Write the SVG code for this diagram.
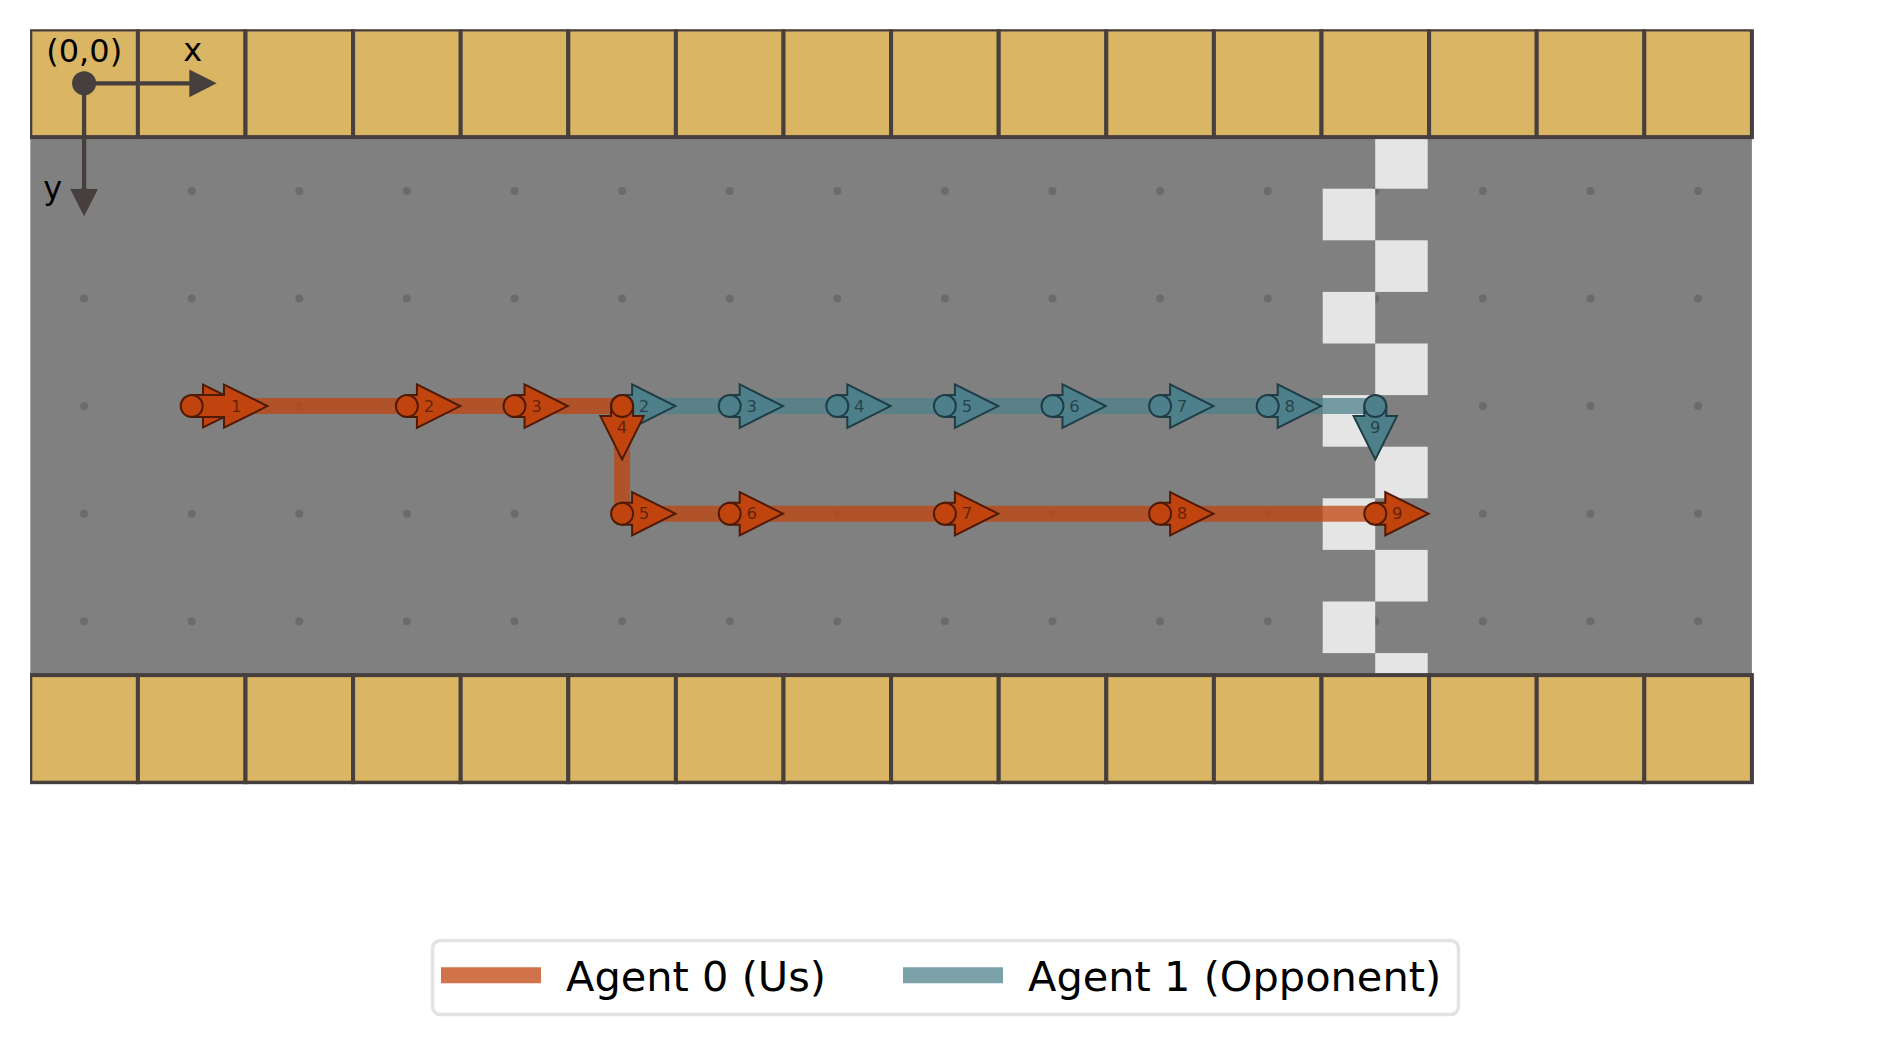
<svg xmlns="http://www.w3.org/2000/svg" xmlns:xlink="http://www.w3.org/1999/xlink" width="1890" height="1045" viewBox="0 0 1890 1045">
<style>
.cell{fill:#dab563;stroke:#463f3d;stroke-width:4}
.dot{fill:#6b6b6b}
.chk{fill:#e5e5e5}
.ax{stroke:#463f3d;stroke-width:4.3;fill:none}
.axh{fill:#463f3d}
.axt{font-family:"DejaVu Sans",sans-serif;font-size:32px;fill:#000}
.p0{fill:none;stroke:#c1440e;stroke-opacity:0.75;stroke-width:16;stroke-linejoin:miter}
.p1{fill:none;stroke:#4e808b;stroke-opacity:0.75;stroke-width:16}
.m0{fill:#c1440e;stroke:#4f1a04;stroke-width:2;stroke-linejoin:miter}
.m1{fill:#4e808b;stroke:#1f3d46;stroke-width:2;stroke-linejoin:miter}
.lb{font-family:"DejaVu Sans",sans-serif;font-size:16.5px;fill:#000;fill-opacity:0.5;text-anchor:middle;dominant-baseline:central}
.lg{font-family:"DejaVu Sans",sans-serif;font-size:41.5px;fill:#000}
</style>
<defs>
<clipPath id="axclip"><rect x="30" y="29.3" width="1724" height="755"/></clipPath>
<g id="ar"><polygon points="0,-11 10,-11 10,-21.7 53.3,0 10,21.7 10,11 0,11"/><circle cx="0" cy="0" r="11"/></g>
</defs>
<rect x="0" y="0" width="1890" height="1045" fill="#ffffff"/>
<g id="board" clip-path="url(#axclip)">
<rect x="30.3" y="137.1" width="1721.6" height="538" fill="#808080"/>
<g id="dots">
<circle class="dot" cx="84.1" cy="190.9" r="4"/><circle class="dot" cx="191.7" cy="190.9" r="4"/><circle class="dot" cx="299.3" cy="190.9" r="4"/><circle class="dot" cx="406.9" cy="190.9" r="4"/><circle class="dot" cx="514.5" cy="190.9" r="4"/><circle class="dot" cx="622.1" cy="190.9" r="4"/><circle class="dot" cx="729.7" cy="190.9" r="4"/><circle class="dot" cx="837.3" cy="190.9" r="4"/><circle class="dot" cx="944.9" cy="190.9" r="4"/><circle class="dot" cx="1052.5" cy="190.9" r="4"/><circle class="dot" cx="1160.1" cy="190.9" r="4"/><circle class="dot" cx="1267.7" cy="190.9" r="4"/><circle class="dot" cx="1375.3" cy="190.9" r="4"/><circle class="dot" cx="1482.9" cy="190.9" r="4"/><circle class="dot" cx="1590.5" cy="190.9" r="4"/><circle class="dot" cx="1698.1" cy="190.9" r="4"/>
<circle class="dot" cx="84.1" cy="298.5" r="4"/><circle class="dot" cx="191.7" cy="298.5" r="4"/><circle class="dot" cx="299.3" cy="298.5" r="4"/><circle class="dot" cx="406.9" cy="298.5" r="4"/><circle class="dot" cx="514.5" cy="298.5" r="4"/><circle class="dot" cx="622.1" cy="298.5" r="4"/><circle class="dot" cx="729.7" cy="298.5" r="4"/><circle class="dot" cx="837.3" cy="298.5" r="4"/><circle class="dot" cx="944.9" cy="298.5" r="4"/><circle class="dot" cx="1052.5" cy="298.5" r="4"/><circle class="dot" cx="1160.1" cy="298.5" r="4"/><circle class="dot" cx="1267.7" cy="298.5" r="4"/><circle class="dot" cx="1375.3" cy="298.5" r="4"/><circle class="dot" cx="1482.9" cy="298.5" r="4"/><circle class="dot" cx="1590.5" cy="298.5" r="4"/><circle class="dot" cx="1698.1" cy="298.5" r="4"/>
<circle class="dot" cx="84.1" cy="406.1" r="4"/><circle class="dot" cx="191.7" cy="406.1" r="4"/><circle class="dot" cx="299.3" cy="406.1" r="4"/><circle class="dot" cx="406.9" cy="406.1" r="4"/><circle class="dot" cx="514.5" cy="406.1" r="4"/><circle class="dot" cx="622.1" cy="406.1" r="4"/><circle class="dot" cx="729.7" cy="406.1" r="4"/><circle class="dot" cx="837.3" cy="406.1" r="4"/><circle class="dot" cx="944.9" cy="406.1" r="4"/><circle class="dot" cx="1052.5" cy="406.1" r="4"/><circle class="dot" cx="1160.1" cy="406.1" r="4"/><circle class="dot" cx="1267.7" cy="406.1" r="4"/><circle class="dot" cx="1375.3" cy="406.1" r="4"/><circle class="dot" cx="1482.9" cy="406.1" r="4"/><circle class="dot" cx="1590.5" cy="406.1" r="4"/><circle class="dot" cx="1698.1" cy="406.1" r="4"/>
<circle class="dot" cx="84.1" cy="513.7" r="4"/><circle class="dot" cx="191.7" cy="513.7" r="4"/><circle class="dot" cx="299.3" cy="513.7" r="4"/><circle class="dot" cx="406.9" cy="513.7" r="4"/><circle class="dot" cx="514.5" cy="513.7" r="4"/><circle class="dot" cx="622.1" cy="513.7" r="4"/><circle class="dot" cx="729.7" cy="513.7" r="4"/><circle class="dot" cx="837.3" cy="513.7" r="4"/><circle class="dot" cx="944.9" cy="513.7" r="4"/><circle class="dot" cx="1052.5" cy="513.7" r="4"/><circle class="dot" cx="1160.1" cy="513.7" r="4"/><circle class="dot" cx="1267.7" cy="513.7" r="4"/><circle class="dot" cx="1375.3" cy="513.7" r="4"/><circle class="dot" cx="1482.9" cy="513.7" r="4"/><circle class="dot" cx="1590.5" cy="513.7" r="4"/><circle class="dot" cx="1698.1" cy="513.7" r="4"/>
<circle class="dot" cx="84.1" cy="621.3" r="4"/><circle class="dot" cx="191.7" cy="621.3" r="4"/><circle class="dot" cx="299.3" cy="621.3" r="4"/><circle class="dot" cx="406.9" cy="621.3" r="4"/><circle class="dot" cx="514.5" cy="621.3" r="4"/><circle class="dot" cx="622.1" cy="621.3" r="4"/><circle class="dot" cx="729.7" cy="621.3" r="4"/><circle class="dot" cx="837.3" cy="621.3" r="4"/><circle class="dot" cx="944.9" cy="621.3" r="4"/><circle class="dot" cx="1052.5" cy="621.3" r="4"/><circle class="dot" cx="1160.1" cy="621.3" r="4"/><circle class="dot" cx="1267.7" cy="621.3" r="4"/><circle class="dot" cx="1375.3" cy="621.3" r="4"/><circle class="dot" cx="1482.9" cy="621.3" r="4"/><circle class="dot" cx="1590.5" cy="621.3" r="4"/><circle class="dot" cx="1698.1" cy="621.3" r="4"/>
</g>
<g id="finish">
<rect class="chk" x="1375.2" y="137.1" width="52.5" height="51.6"/>
<rect class="chk" x="1322.7" y="188.7" width="52.5" height="51.6"/>
<rect class="chk" x="1375.2" y="240.3" width="52.5" height="51.6"/>
<rect class="chk" x="1322.7" y="291.9" width="52.5" height="51.6"/>
<rect class="chk" x="1375.2" y="343.5" width="52.5" height="51.6"/>
<rect class="chk" x="1322.7" y="395.1" width="52.5" height="51.6"/>
<rect class="chk" x="1375.2" y="446.7" width="52.5" height="51.6"/>
<rect class="chk" x="1322.7" y="498.3" width="52.5" height="51.6"/>
<rect class="chk" x="1375.2" y="549.9" width="52.5" height="51.6"/>
<rect class="chk" x="1322.7" y="601.5" width="52.5" height="51.6"/>
<rect class="chk" x="1375.2" y="653.1" width="52.5" height="22"/>
</g>
<g id="top-wall">
<rect class="cell" x="30.3" y="29.5" width="107.6" height="107.6"/><rect class="cell" x="137.9" y="29.5" width="107.6" height="107.6"/><rect class="cell" x="245.5" y="29.5" width="107.6" height="107.6"/><rect class="cell" x="353.1" y="29.5" width="107.6" height="107.6"/><rect class="cell" x="460.7" y="29.5" width="107.6" height="107.6"/><rect class="cell" x="568.3" y="29.5" width="107.6" height="107.6"/><rect class="cell" x="675.9" y="29.5" width="107.6" height="107.6"/><rect class="cell" x="783.5" y="29.5" width="107.6" height="107.6"/><rect class="cell" x="891.1" y="29.5" width="107.6" height="107.6"/><rect class="cell" x="998.7" y="29.5" width="107.6" height="107.6"/><rect class="cell" x="1106.3" y="29.5" width="107.6" height="107.6"/><rect class="cell" x="1213.9" y="29.5" width="107.6" height="107.6"/><rect class="cell" x="1321.5" y="29.5" width="107.6" height="107.6"/><rect class="cell" x="1429.1" y="29.5" width="107.6" height="107.6"/><rect class="cell" x="1536.7" y="29.5" width="107.6" height="107.6"/><rect class="cell" x="1644.3" y="29.5" width="107.6" height="107.6"/>
</g>
<g id="bottom-wall">
<rect class="cell" x="30.3" y="675.1" width="107.6" height="107.6"/><rect class="cell" x="137.9" y="675.1" width="107.6" height="107.6"/><rect class="cell" x="245.5" y="675.1" width="107.6" height="107.6"/><rect class="cell" x="353.1" y="675.1" width="107.6" height="107.6"/><rect class="cell" x="460.7" y="675.1" width="107.6" height="107.6"/><rect class="cell" x="568.3" y="675.1" width="107.6" height="107.6"/><rect class="cell" x="675.9" y="675.1" width="107.6" height="107.6"/><rect class="cell" x="783.5" y="675.1" width="107.6" height="107.6"/><rect class="cell" x="891.1" y="675.1" width="107.6" height="107.6"/><rect class="cell" x="998.7" y="675.1" width="107.6" height="107.6"/><rect class="cell" x="1106.3" y="675.1" width="107.6" height="107.6"/><rect class="cell" x="1213.9" y="675.1" width="107.6" height="107.6"/><rect class="cell" x="1321.5" y="675.1" width="107.6" height="107.6"/><rect class="cell" x="1429.1" y="675.1" width="107.6" height="107.6"/><rect class="cell" x="1536.7" y="675.1" width="107.6" height="107.6"/><rect class="cell" x="1644.3" y="675.1" width="107.6" height="107.6"/>
</g>
</g>
<g id="connectors">
<polyline class="p0" points="191.7,406.1 622.1,406.1 622.1,513.7 1375.3,513.7"/>
<polyline class="p1" points="622.1,406.1 1375.3,406.1"/>
</g>
<g id="agent1-markers">
<g id="a1-s2"><use xlink:href="#ar" class="m1" transform="translate(622.1,406.1)"/><text class="lb" x="644.1" y="406.1">2</text></g>
<g id="a1-s3"><use xlink:href="#ar" class="m1" transform="translate(729.7,406.1)"/><text class="lb" x="751.7" y="406.1">3</text></g>
<g id="a1-s4"><use xlink:href="#ar" class="m1" transform="translate(837.3,406.1)"/><text class="lb" x="859.3" y="406.1">4</text></g>
<g id="a1-s5"><use xlink:href="#ar" class="m1" transform="translate(944.9,406.1)"/><text class="lb" x="966.9" y="406.1">5</text></g>
<g id="a1-s6"><use xlink:href="#ar" class="m1" transform="translate(1052.5,406.1)"/><text class="lb" x="1074.5" y="406.1">6</text></g>
<g id="a1-s7"><use xlink:href="#ar" class="m1" transform="translate(1160.1,406.1)"/><text class="lb" x="1182.1" y="406.1">7</text></g>
<g id="a1-s8"><use xlink:href="#ar" class="m1" transform="translate(1267.7,406.1)"/><text class="lb" x="1289.7" y="406.1">8</text></g>
<g id="a1-s9"><use xlink:href="#ar" class="m1" transform="translate(1375.3,406.1) rotate(90)"/><text class="lb" x="1375.3" y="427.6">9</text></g>
</g>
<g id="agent0-markers">
<g id="a0-s1">
<polygon class="m0" points="191.7,395.1 203,395.1 203,384.7 246.4,406.1 203,427.5 203,417.1 191.7,417.1"/>
<polygon class="m0" points="191.7,395.1 224,395.1 224,384.5 267.4,406.1 224,427.7 224,417.1 191.7,417.1"/>
<circle class="m0" cx="191.7" cy="406.1" r="11"/>
<text class="lb" x="236.2" y="406.1">1</text>
</g>
<g id="a0-s2"><use xlink:href="#ar" class="m0" transform="translate(406.9,406.1)"/><text class="lb" x="428.9" y="406.1">2</text></g>
<g id="a0-s3"><use xlink:href="#ar" class="m0" transform="translate(514.5,406.1)"/><text class="lb" x="536.5" y="406.1">3</text></g>
<g id="a0-s4"><use xlink:href="#ar" class="m0" transform="translate(622.1,406.1) rotate(90)"/><text class="lb" x="622.1" y="427.6">4</text></g>
<g id="a0-s5"><use xlink:href="#ar" class="m0" transform="translate(622.1,513.7)"/><text class="lb" x="644.1" y="513.7">5</text></g>
<g id="a0-s6"><use xlink:href="#ar" class="m0" transform="translate(729.7,513.7)"/><text class="lb" x="751.7" y="513.7">6</text></g>
<g id="a0-s7"><use xlink:href="#ar" class="m0" transform="translate(944.9,513.7)"/><text class="lb" x="966.9" y="513.7">7</text></g>
<g id="a0-s8"><use xlink:href="#ar" class="m0" transform="translate(1160.1,513.7)"/><text class="lb" x="1182.1" y="513.7">8</text></g>
<g id="a0-s9"><use xlink:href="#ar" class="m0" transform="translate(1375.3,513.7)"/><text class="lb" x="1397.3" y="513.7">9</text></g>
</g>
<g id="axes">
<line class="ax" x1="84.1" y1="83.3" x2="192" y2="83.3"/>
<polygon class="axh" points="189.3,69.4 216.7,83.3 189.3,97.2"/>
<line class="ax" x1="84.1" y1="83.3" x2="84.1" y2="192"/>
<polygon class="axh" points="70.2,189 98,189 84.1,216.3"/>
<circle class="axh" cx="84.1" cy="83.3" r="12"/>
<text class="axt" x="84.2" y="61.7" text-anchor="middle">(0,0)</text>
<text class="axt" x="192.7" y="61.3" text-anchor="middle">x</text>
<text class="axt" x="52.7" y="199.2" text-anchor="middle">y</text>
</g>
<g id="legend">
<rect x="432.5" y="940.5" width="1026" height="74" rx="8" ry="8" fill="#ffffff" stroke="#e3e3e3" stroke-width="3.5"/>
<line x1="441" y1="975.3" x2="541" y2="975.3" stroke="#c1440e" stroke-opacity="0.75" stroke-width="16"/>
<text class="lg" x="566" y="991">Agent 0 (Us)</text>
<line x1="903" y1="975.3" x2="1003" y2="975.3" stroke="#4e808b" stroke-opacity="0.75" stroke-width="16"/>
<text class="lg" x="1028" y="991">Agent 1 (Opponent)</text>
</g>
</svg>
